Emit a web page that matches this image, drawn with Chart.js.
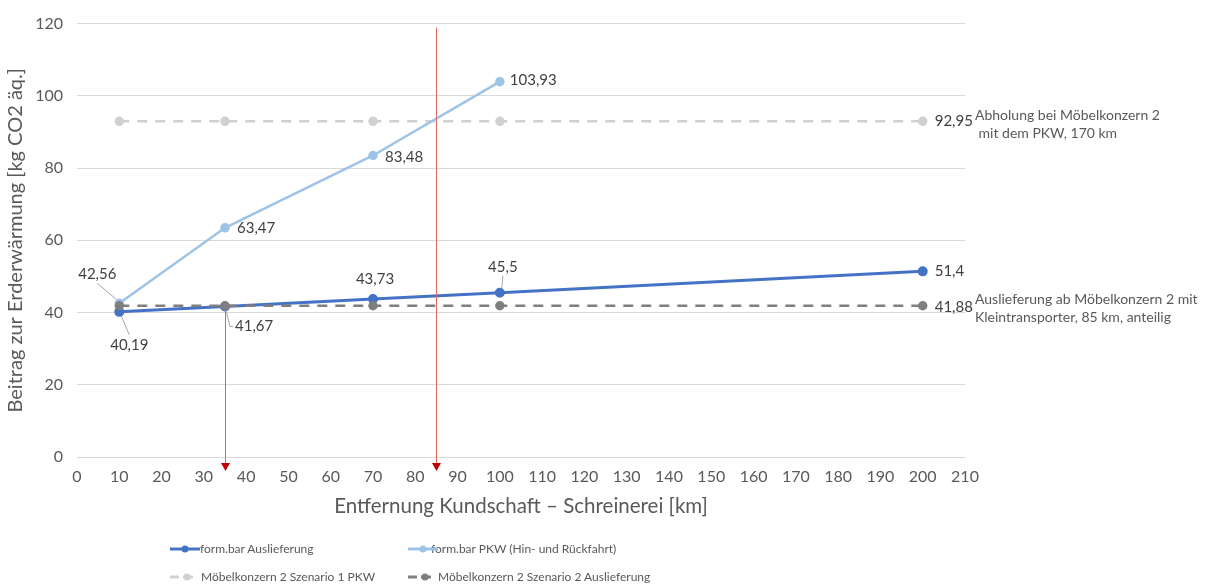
<!DOCTYPE html>
<html>
<head>
<meta charset="utf-8">
<script src="https://cdn.jsdelivr.net/npm/chart.js@4/dist/chart.umd.min.js"></script>
<style>
  body { margin: 0; background: #fff; font-family: Lato, "Open Sans", sans-serif; }
  #wrap { position: relative; width: 1206px; height: 588px; }
  #legend { position: absolute; left: 0; top: 0; width: 1206px; height: 588px; pointer-events: none; }
  .item { position: absolute; font-size: 12px; color: #595959; white-space: nowrap; line-height: 18px; }
  .item svg { position: absolute; top: 4px; }
</style>
</head>
<body>
<div id="wrap">
  <canvas id="chart" width="1206" height="588"></canvas>
  <div id="legend"></div>
</div>
<script>
// Data
const distances = [10, 35, 70, 100, 200];
const auslieferung = [40.19, 41.67, 43.73, 45.5, 51.4];
const pkwDistances = [10, 35, 70, 100];
const pkw = [42.56, 63.47, 83.48, 103.93];
const szenario1 = [92.95, 92.95, 92.95, 92.95, 92.95];
const szenario2 = [41.88, 41.88, 41.88, 41.88, 41.88];
const seriesNames = [
  'form.bar Auslieferung',
  'form.bar PKW (Hin- und Rückfahrt)',
  'Möbelkonzern 2 Szenario 1 PKW',
  'Möbelkonzern 2 Szenario 2 Auslieferung'
];
const sideNotes = [
  ['Abholung bei Möbelkonzern 2', ' mit dem PKW, 170 km'],
  ['Auslieferung ab Möbelkonzern 2 mit', 'Kleintransporter, 85 km, anteilig']
];
// red break-even markers: x value and the y value where the line starts
const markerX = [35, 85];
const markerFrom = [41.67, 120];

const colors = ['#4472C4', '#9DC3E6', '#D0D0D0', '#7F7F7F'];

function pts(xs, ys) { return xs.map((x, i) => ({ x: x, y: ys[i] })); }
function fmt(v) { return String(v).replace('.', ','); }

// where each value label goes: [dx, dy, align, leader]
const labelSpots = [
  [[10, 33, 'center', true], [10, 20, 'left', 'elbow'], [2, -20, 'center', false], [3, -26, 'center', true], [12, 0, 'left', false]],
  [[-22, -29, 'center', true], [12, 0, 'left', false], [12, 2, 'left', false], [10, -1, 'left', false]],
  [null, null, null, null, [12, 0, 'left', false]],
  [null, null, null, null, [12, 1, 'left', false]]
];

const labelPlugin = {
  id: 'labels',
  afterDatasetsDraw(chart) {
    const ctx = chart.ctx;
    ctx.save();
    ctx.font = '15px Lato, "Open Sans", sans-serif';
    ctx.fillStyle = '#404040';
    ctx.textBaseline = 'middle';
    chart.data.datasets.forEach((ds, di) => {
      const meta = chart.getDatasetMeta(di);
      meta.data.forEach((el, i) => {
        const spot = labelSpots[di][i];
        if (!spot) return;
        const tx = el.x + spot[0], ty = el.y + spot[1];
        ctx.textAlign = spot[2];
        ctx.fillText(fmt(ds.data[i].y), tx, ty);
        ctx.strokeStyle = '#A6A6A6';
        ctx.lineWidth = 1;
        if (spot[3] === true) {
          ctx.beginPath();
          ctx.moveTo(tx, ty + (spot[1] < 0 ? 9 : -10));
          ctx.lineTo(el.x + (spot[0] < 0 ? -3 : 2), el.y + (spot[1] < 0 ? -4 : 4));
          ctx.stroke();
        } else if (spot[3] === 'elbow') {
          ctx.beginPath();
          ctx.moveTo(el.x + 1, el.y + 4);
          ctx.lineTo(tx - 5, ty);
          ctx.lineTo(tx - 2, ty);
          ctx.stroke();
        }
      });
    });
    // side notes
    ctx.font = '14px Lato, "Open Sans", sans-serif';
    ctx.fillStyle = '#595959';
    ctx.textAlign = 'left';
    const y = chart.scales.y;
    const x0 = chart.chartArea.right + 10;
    [92.95, 41.88].forEach((v, k) => {
      const py = y.getPixelForValue(v);
      ctx.fillText(sideNotes[k][0], x0, py - 6);
      ctx.fillText(sideNotes[k][1], x0, py + 12);
    });
    ctx.restore();
  }
};

const markerPlugin = {
  id: 'markers',
  afterDatasetsDraw(chart) {
    const ctx = chart.ctx, xs = chart.scales.x, ys = chart.scales.y;
    ctx.save();
    markerX.forEach((mx, k) => {
      const px = Math.round(xs.getPixelForValue(mx)) + 0.5;
      const top = ys.getPixelForValue(markerFrom[k]);
      const bottom = ys.getPixelForValue(0) + 6;
      ctx.strokeStyle = '#E06666';
      ctx.lineWidth = 1;
      ctx.beginPath();
      ctx.moveTo(px, top + 4);
      ctx.lineTo(px, bottom);
      ctx.stroke();
      ctx.fillStyle = '#C00000';
      ctx.beginPath();
      ctx.moveTo(px - 4.5, bottom);
      ctx.lineTo(px + 4.5, bottom);
      ctx.lineTo(px, bottom + 8);
      ctx.closePath();
      ctx.fill();
    });
    ctx.restore();
  }
};

const chart = new Chart(document.getElementById('chart').getContext('2d'), {
  type: 'line',
  data: {
    datasets: [
      { label: seriesNames[0], data: pts(distances, auslieferung), borderColor: colors[0], backgroundColor: colors[0], borderWidth: 3, pointRadius: 3.5, order: 1 },
      { label: seriesNames[1], data: pts(pkwDistances, pkw), borderColor: colors[1], backgroundColor: colors[1], borderWidth: 2.5, pointRadius: 3.5, order: 2 },
      { label: seriesNames[2], data: pts(distances, szenario1), borderColor: colors[2], backgroundColor: colors[2], borderWidth: 2.5, borderDash: [10, 8], pointRadius: 3.5, order: 3 },
      { label: seriesNames[3], data: pts(distances, szenario2), borderColor: colors[3], backgroundColor: colors[3], borderWidth: 2.5, borderDash: [10, 8], pointRadius: 3.5, order: 0 }
    ]
  },
  options: {
    responsive: false,
    animation: false,
    layout: { padding: { top: 23, right: 241, bottom: 69, left: 0 } },
    scales: {
      x: {
        type: 'linear',
        min: 0,
        max: 210,
        ticks: { stepSize: 10, color: '#595959', font: { family: 'Lato', size: 16 }, padding: 10, maxRotation: 0 },
        grid: { display: false, drawTicks: false },
        border: { display: false },
        title: { display: true, text: 'Entfernung Kundschaft – Schreinerei [km]', color: '#595959', font: { family: 'Lato', size: 20.5 }, padding: { top: 6, bottom: 0 } },
        afterFit(scale) { scale.height = 62; }
      },
      y: {
        min: 0,
        max: 120,
        ticks: { stepSize: 20, color: '#595959', font: { family: 'Lato', size: 16 }, padding: 14 },
        grid: { color: '#D9D9D9', lineWidth: 1, drawTicks: false },
        border: { display: false },
        title: { display: true, text: 'Beitrag zur Erderwärmung [kg CO2 äq.]', color: '#595959', font: { family: 'Lato', size: 20 }, padding: { top: 4, bottom: 0 } },
        afterFit(scale) { scale.width = 77; }
      }
    },
    plugins: {
      legend: { display: false },
      tooltip: { enabled: false }
    }
  },
  plugins: [markerPlugin, labelPlugin]
});

// Legend (two columns like the original)
const legendPos = [[170, 549, 30], [408, 549, 23], [170, 577, 31], [408, 577, 30]];
const legendEl = document.getElementById('legend');
chart.data.datasets.forEach((ds, i) => {
  const div = document.createElement('div');
  div.className = 'item';
  div.style.left = legendPos[i][0] + 'px';
  div.style.top = (legendPos[i][1] - 9) + 'px';
  div.style.paddingLeft = legendPos[i][2] + 'px';
  const svg = ds.borderDash
    ? '<svg width="24" height="10"><line x1="0" y1="5" x2="9" y2="5" stroke="' + ds.borderColor + '" stroke-width="3"/>' +
      '<line x1="13" y1="5" x2="23" y2="5" stroke="' + ds.borderColor + '" stroke-width="3"/>' +
      '<circle cx="17" cy="5" r="3.5" fill="' + ds.borderColor + '"/></svg>'
    : '<svg width="30" height="10"><line x1="0" y1="5" x2="30" y2="5" stroke="' + ds.borderColor +
      '" stroke-width="3"/><circle cx="15" cy="5" r="3.5" fill="' + ds.borderColor + '"/></svg>';
  div.innerHTML = svg + ds.label;
  div.querySelector('svg').style.left = '0px';
  legendEl.appendChild(div);
});
</script>
</body>
</html>
